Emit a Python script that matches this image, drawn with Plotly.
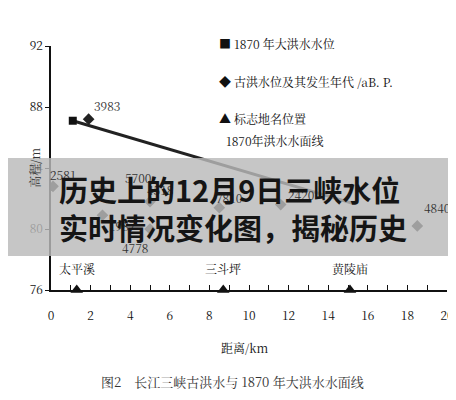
import plotly.graph_objects as go

flood_x = [1.1, 15.2]
flood_y = [87.1, 81.7]
paleo_x = [1.9, 0.1, 2.6, 5.0, 2.6, 5.0, 8.5, 11.6, 18.5]
paleo_y = [87.2, 82.8, 82.6, 81.8, 80.9, 80.0, 81.4, 81.6, 80.2]
paleo_lbl = ["3983", "2581", "5700", "4518", "1987", "4778", "7810", "2420", "4840"]
site_x = [1.3, 8.7, 15.1]
site_lbl = ["太平溪", "三斗坪", "黄陵庙"]

F = "Noto Serif CJK SC, Noto Sans CJK SC, serif"
fig = go.Figure()
fig.add_trace(go.Scatter(x=flood_x, y=flood_y, mode="lines", line=dict(color="#222", width=3), showlegend=False))
fig.add_trace(go.Scatter(x=flood_x[:1], y=flood_y[:1], mode="markers", marker=dict(symbol="square", size=8, color="#111"), showlegend=False))
fig.add_trace(go.Scatter(x=paleo_x, y=paleo_y, mode="markers", marker=dict(symbol="diamond", size=9, color="#222"), showlegend=False))
fig.add_trace(go.Scatter(x=site_x, y=[76]*3, mode="markers", marker=dict(symbol="triangle-up", size=11, color="#111"), showlegend=False, cliponaxis=False))

offs = {"3983": (18, -14), "2581": (10, -12), "5700": (36, -12), "4518": (10, -12), "1987": (20, 10),
        "4778": (-15, 18), "7810": (10, -10), "2420": (20, -10), "4840": (20, -18)}
for x, y, t in zip(paleo_x, paleo_y, paleo_lbl):
    dx, dy = offs[t]
    fig.add_annotation(x=x, y=y, text=t, showarrow=False, xshift=dx, yshift=-dy, font=dict(family=F, size=12, color="#333"))
for x, t in zip(site_x, site_lbl):
    fig.add_annotation(x=x, y=76, text=t, showarrow=False, yshift=22, font=dict(family=F, size=12, color="#111"))
fig.add_annotation(x=11.3, y=85.8, text="1870年洪水水面线", showarrow=False, font=dict(family=F, size=12, color="#111"))

for i, (sym, t) in enumerate([("■", "1870 年大洪水水位"), ("◆", "古洪水位及其发生年代 /aB. P."), ("▲", "标志地名位置")]):
    py = 25 + i * 37.5
    fig.add_annotation(x=0.42, y=(282 - py) / 244, xref="paper", yref="paper", text=sym + " " + t, showarrow=False,
                       xanchor="left", font=dict(family=F, size=12, color="#111"))

fig.add_annotation(x=-0.07, y=84, xref="paper", text="高程/m", textangle=-90, showarrow=False, font=dict(family=F, size=12, color="#333"))
fig.add_annotation(x=(240-43)/403, y=(282-350)/244, xref="paper", yref="paper", text="距离/km", showarrow=False, font=dict(family=F, size=12, color="#111"))
fig.add_annotation(x=(228-43)/403, y=(282-385)/244, xref="paper", yref="paper", text="图2　长江三峡古洪水与 1870 年大洪水水面线", showarrow=False, font=dict(family=F, size=13, color="#333"))

fig.add_shape(type="rect", xref="paper", yref="paper", x0=-0.11, x1=1.03, y0=(282-248)/244, y1=(282-150)/244,
              fillcolor="rgba(185,185,185,0.82)", line=dict(width=0), layer="above")
fig.add_annotation(x=(228-43)/403, y=(282-200)/244, xref="paper", yref="paper",
                   text="<b>历史上的12月9日三峡水位<br>实时情况变化图，揭秘历史</b>", showarrow=False,
                   font=dict(family="Noto Sans CJK SC", size=29, color="#151515"), align="left")

fig.update_xaxes(range=[0, 20], dtick=2, showline=True, linecolor="#111", linewidth=1.5, ticks="inside", ticklen=5,
                 tickcolor="#111", minor=dict(dtick=1, ticks="inside", ticklen=5, tickcolor="#111"),
                 ticklabelstandoff=14, showgrid=False, zeroline=False, tickfont=dict(family=F, size=12, color="#111"))
fig.update_yaxes(range=[76, 92], dtick=4, showline=True, linecolor="#111", linewidth=1.5, ticks="outside", ticklen=4,
                 tickcolor="#111", showgrid=False, zeroline=False, tickfont=dict(family=F, size=12, color="#111"))
fig.update_layout(width=456, height=400, margin=dict(l=43, r=10, t=38, b=118), plot_bgcolor="white", paper_bgcolor="white")
fig.write_html("out.html")
